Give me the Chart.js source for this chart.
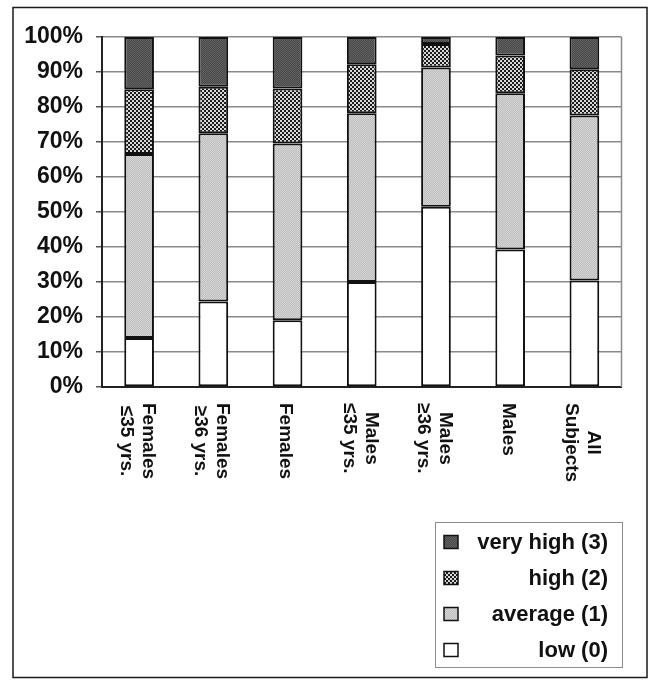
<!DOCTYPE html>
<html>
<head>
<meta charset="utf-8">
<script src="https://cdn.jsdelivr.net/npm/chart.js@4/dist/chart.umd.min.js"></script>
<style>
  html, body { margin: 0; padding: 0; background: #fff; }
  #wrap { width: 658px; height: 685px; }
</style>
</head>
<body>
<div id="wrap"><canvas id="c" width="658" height="685"></canvas></div>
<script>
// Group labels (one entry per line of each label)
const categories = [
  ["Females", "\u226435 yrs."],
  ["Females", "\u226536 yrs."],
  ["Females"],
  ["Males", "\u226435 yrs."],
  ["Males", "\u226536 yrs."],
  ["Males"],
  ["All", "Subjects"]
];

// Share of each rating level per group, in percent
const lowValues      = [14.0, 24.4, 19.1, 30.0, 51.5, 39.3, 30.4];
const averageValues  = [52.6, 48.1, 50.5, 48.2, 39.8, 44.6, 47.2];
const highValues     = [18.5, 13.3, 15.7, 14.0,  6.7, 10.8, 13.2];
const veryHighValues = [14.9, 14.2, 14.7,  7.8,  2.0,  5.3,  9.2];

const seriesNames = ["low (0)", "average (1)", "high (2)", "very high (3)"];
const yTickValues = [0, 10, 20, 30, 40, 50, 60, 70, 80, 90, 100];

const FONT = "'Liberation Sans', Arial, Helvetica, sans-serif";

// Small tiled fills that give the printed-halftone look
function makePattern(size, draw) {
  const cv = document.createElement('canvas');
  cv.width = size; cv.height = size;
  const g = cv.getContext('2d');
  draw(g);
  return document.getElementById('c').getContext('2d').createPattern(cv, 'repeat');
}
const fillVeryHigh = makePattern(2, g => {
  g.fillStyle = '#4a4a4a'; g.fillRect(0, 0, 2, 2);
  g.fillStyle = '#606060'; g.fillRect(0, 0, 1, 1); g.fillRect(1, 1, 1, 1);
});
const fillHigh = makePattern(4, g => {
  g.fillStyle = '#1c1c1c'; g.fillRect(0, 0, 4, 4);
  g.fillStyle = '#d8d8d8'; g.fillRect(0, 0, 2, 2); g.fillRect(2, 2, 2, 2);
});
const fillAverage = makePattern(2, g => {
  g.fillStyle = '#bfbfbf'; g.fillRect(0, 0, 2, 2);
  g.fillStyle = '#d4d4d4'; g.fillRect(0, 0, 1, 1); g.fillRect(1, 1, 1, 1);
});
const fillLow = '#ffffff';

const PLOT = { left: 102, right: 621.5, top: 37, bottom: 387 };

function barDataset(label, data, fill) {
  return {
    label, data,
    backgroundColor: fill,
    borderColor: '#111',
    borderWidth: 2,
    borderSkipped: false,
    barPercentage: 0.4,
    categoryPercentage: 1.0
  };
}

// Outer frame, plot right edge, rotated category labels and legend box
const decorations = {
  id: 'decorations',
  beforeDraw(chart) {
    const ctx = chart.ctx;
    ctx.save();
    ctx.fillStyle = '#fff';
    ctx.fillRect(0, 0, chart.width, chart.height);
    ctx.restore();
  },
  afterDraw(chart) {
    const ctx = chart.ctx;
    const area = chart.chartArea;
    const xs = chart.scales.x;
    ctx.save();

    // outer frame
    ctx.strokeStyle = '#1a1a1a';
    ctx.lineWidth = 1.5;
    ctx.strokeRect(13, 7.5, 634, 670);

    // right edge of plot
    ctx.strokeStyle = '#8a8a8a';
    ctx.lineWidth = 1.5;
    ctx.beginPath();
    ctx.moveTo(area.right, area.top);
    ctx.lineTo(area.right, area.bottom);
    ctx.stroke();

    // category labels, rotated to read downward
    ctx.fillStyle = '#111';
    ctx.font = 'bold 19px ' + FONT;
    ctx.textAlign = 'center';
    ctx.textBaseline = 'middle';
    const lh = 22;
    categories.forEach((lines, i) => {
      const cx = xs.getPixelForValue(i) - 2;
      const w = Math.max(...lines.map(t => ctx.measureText(t).width));
      ctx.save();
      ctx.translate(cx, area.bottom + 16);
      ctx.rotate(Math.PI / 2);
      lines.forEach((t, j) => {
        ctx.fillText(t, w / 2, (j - (lines.length - 1) / 2) * lh);
      });
      ctx.restore();
    });

    // legend
    const box = { x: 435.5, y: 522.5, w: 187, h: 145 };
    ctx.strokeStyle = '#8c8c8c';
    ctx.lineWidth = 1;
    ctx.strokeRect(box.x, box.y, box.w, box.h);
    const ds = chart.data.datasets.slice().reverse();
    ctx.font = 'bold 22px ' + FONT;
    ctx.textAlign = 'right';
    ctx.textBaseline = 'middle';
    ds.forEach((d, k) => {
      const cy = 542 + k * 36;
      ctx.fillStyle = d.backgroundColor;
      ctx.fillRect(444, cy - 6.5, 14, 13);
      ctx.strokeStyle = '#111';
      ctx.lineWidth = 1.5;
      ctx.strokeRect(444, cy - 6.5, 14, 13);
      ctx.fillStyle = '#111';
      ctx.fillText(d.label, 608, cy + 1);
    });
    ctx.restore();
  }
};

new Chart(document.getElementById('c'), {
  type: 'bar',
  data: {
    labels: categories,
    datasets: [
      barDataset(seriesNames[0], lowValues, fillLow),
      barDataset(seriesNames[1], averageValues, fillAverage),
      barDataset(seriesNames[2], highValues, fillHigh),
      barDataset(seriesNames[3], veryHighValues, fillVeryHigh)
    ]
  },
  options: {
    responsive: false,
    animation: false,
    events: [],
    layout: { padding: { left: 0, right: 658 - PLOT.right, top: PLOT.top, bottom: 0 } },
    plugins: { legend: { display: false }, tooltip: { enabled: false } },
    scales: {
      x: {
        stacked: true,
        grid: { display: false },
        border: { display: true, color: '#222', width: 2 },
        ticks: { display: false },
        afterFit(s) { s.height = 685 - PLOT.bottom; }
      },
      y: {
        stacked: true,
        min: 0, max: 100,
        afterBuildTicks(s) { s.ticks = yTickValues.map(v => ({ value: v })); },
        grid: { color: '#8a8a8a', lineWidth: 1.5, tickColor: '#555', tickLength: 6 },
        border: { display: true, color: '#222', width: 2 },
        ticks: {
          padding: 13,
          color: '#111',
          font: { family: FONT, size: 23, weight: 'bold' },
          callback: v => v + '%'
        },
        afterFit(s) { s.width = PLOT.left; }
      }
    }
  },
  plugins: [decorations]
});
</script>
</body>
</html>
